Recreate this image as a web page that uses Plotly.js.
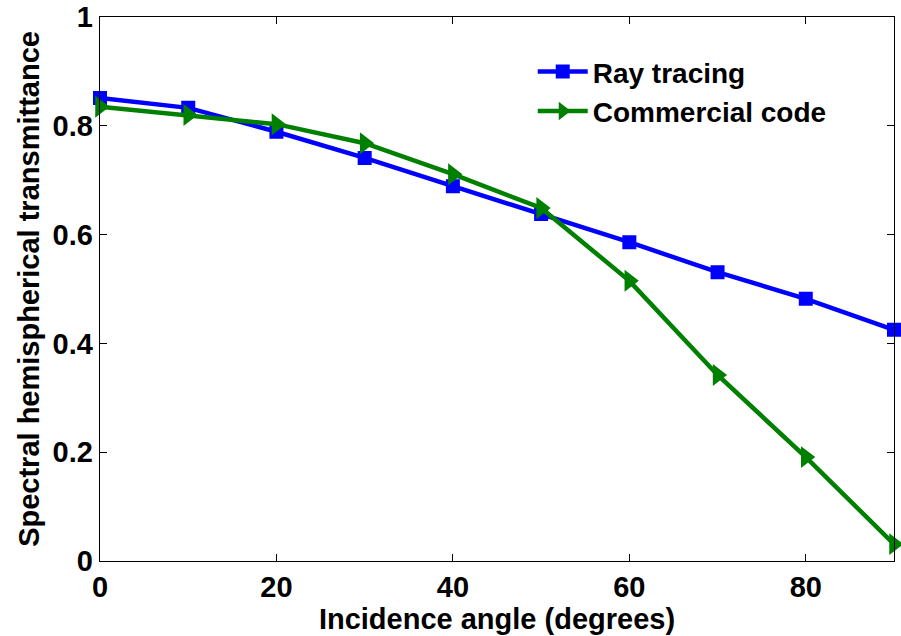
<!DOCTYPE html>
<html>
<head>
<meta charset="utf-8">
<script src="https://cdn.plot.ly/plotly-3.0.1.min.js"></script>
<style>html,body{margin:0;padding:0;background:#fff;}#chart{width:901px;height:636px;}</style>
</head>
<body>
<div id="chart"></div>
<script>
// Incidence angles (degrees)
const angles = [0, 10, 20, 30, 40, 50, 60, 70, 80, 90];
// Spectral hemispherical transmittance per method
const rayTracing = [0.851, 0.833, 0.789, 0.741, 0.689, 0.638, 0.586, 0.531, 0.482, 0.425];
const commercialCode = [0.835, 0.820, 0.803, 0.768, 0.711, 0.649, 0.515, 0.342, 0.191, 0.031];
const xTicks = [0, 20, 40, 60, 80];
const yTicks = [0, 0.2, 0.4, 0.6, 0.8, 1];
const yTickText = ['0', '0.2', '0.4', '0.6', '0.8', '1'];

const font = 'Liberation Sans, Arial, Helvetica, sans-serif';

const traces = [
  {
    x: angles, y: rayTracing, name: 'Ray tracing', type: 'scatter', mode: 'lines+markers',
    line: {color: '#0000ff', width: 4.5},
    marker: {symbol: 'square', size: 12, color: '#0000ff', line: {color: '#0000ff', width: 2}},
    cliponaxis: false
  },
  {
    x: angles, y: commercialCode, name: 'Commercial code', type: 'scatter', mode: 'lines+markers',
    line: {color: '#008000', width: 4.5},
    marker: {symbol: 'triangle-right', size: 19, color: '#008000', line: {width: 0}},
    cliponaxis: false
  }
];

const axisCommon = {
  showgrid: false, zeroline: false, showline: true, mirror: 'ticks',
  linecolor: '#000', linewidth: 1.3, ticks: 'inside', ticklen: 7, tickwidth: 1, tickcolor: '#000',
  tickfont: {family: font, size: 29, color: '#000', weight: 'bold'}
};

const layout = {
  width: 901, height: 636,
  margin: {l: 100, r: 7, t: 17, b: 75},
  paper_bgcolor: '#fff', plot_bgcolor: '#fff',
  showlegend: true,
  legend: {
    x: 0.545, y: 0.945, xanchor: 'left', yanchor: 'top',
    bgcolor: 'rgba(255,255,255,0)', borderwidth: 0,
    font: {family: font, size: 28, color: '#000', weight: 'bold'},
    tracegroupgap: 0, itemwidth: 50
  },
  xaxis: Object.assign({}, axisCommon, {
    range: [0, 90], tickvals: xTicks, ticktext: xTicks.map(String),
    title: {text: 'Incidence angle (degrees)', standoff: 2,
            font: {family: font, size: 29, color: '#000', weight: 'bold'}}
  }),
  yaxis: Object.assign({}, axisCommon, {
    range: [0, 1], tickvals: yTicks, ticktext: yTickText,
    title: {text: 'Spectral hemispherical transmittance', standoff: 4,
            font: {family: font, size: 29, color: '#000', weight: 'bold'}}
  })
};

Plotly.newPlot('chart', traces, layout, {displayModeBar: false, staticPlot: true});
</script>
</body>
</html>
